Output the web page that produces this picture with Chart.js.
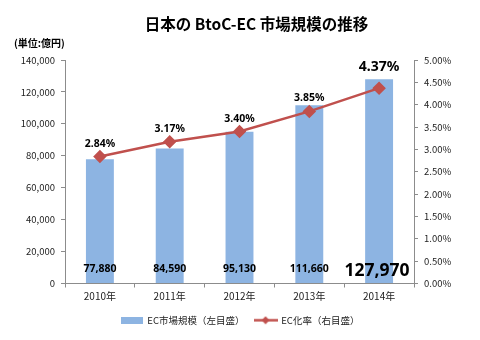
<!DOCTYPE html>
<html>
<head>
<meta charset="utf-8">
<script src="https://cdn.jsdelivr.net/npm/chart.js@4"></script>
<style>
  html, body { margin: 0; padding: 0; background: #fff; }
  #wrap { width: 480px; height: 340px; }
</style>
</head>
<body>
<div id="wrap"><canvas id="myChart" width="480" height="340"></canvas></div>
<script>
// data
var years = ['2010年', '2011年', '2012年', '2013年', '2014年'];
var ecSize = [77880, 84590, 95130, 111660, 127970];   // 億円
var ecRate = [2.84, 3.17, 3.40, 3.85, 4.37];          // %
var leftTicks = [0, 20000, 40000, 60000, 80000, 100000, 120000, 140000];
var rightTicks = [0, 0.5, 1, 1.5, 2, 2.5, 3, 3.5, 4, 4.5, 5];
var titleText = '日本の BtoC-EC 市場規模の推移';
var unitText = '(単位:億円)';

var jp = '"Noto Sans CJK JP", "Noto Sans", sans-serif';
var num = '"Noto Sans", "Liberation Sans", sans-serif';
var barColor = '#8DB4E2';
var lineColor = '#C0504D';
var axisColor = '#8c8c8c';

// legend swatches as small canvases
function swatchBar() {
    var c = document.createElement('canvas');
    c.width = 22; c.height = 7;
    var g = c.getContext('2d');
    g.fillStyle = barColor;
    g.fillRect(0, 0, 22, 7);
    return c;
}
function swatchLine() {
    var c = document.createElement('canvas');
    c.width = 24; c.height = 9;
    var g = c.getContext('2d');
    g.strokeStyle = lineColor;
    g.lineWidth = 2.5;
    g.beginPath(); g.moveTo(0, 4.5); g.lineTo(24, 4.5); g.stroke();
    g.fillStyle = lineColor;
    g.beginPath(); g.moveTo(12, 0.5); g.lineTo(16, 4.5); g.lineTo(12, 8.5); g.lineTo(8, 4.5); g.closePath(); g.fill();
    return c;
}

var labelPlugin = {
    id: 'labels',
    afterDatasetsDraw: function (chart) {
        var ctx = chart.ctx;
        ctx.save();
        ctx.textAlign = 'center';
        ctx.textBaseline = 'middle';
        ctx.fillStyle = '#000';
        var yb = chart.scales.y;
        var bars = chart.getDatasetMeta(0).data;
        bars.forEach(function (b, i) {
            var last = i === bars.length - 1;
            ctx.font = 'bold ' + (last ? 17.5 : 10.5) + 'px ' + num;
            ctx.fillText(ecSize[i].toLocaleString('en-US'), b.x - (last ? 2 : 0), yb.bottom - (last ? 12 : 14));
        });
        var pts = chart.getDatasetMeta(1).data;
        pts.forEach(function (p, i) {
            var last = i === pts.length - 1;
            ctx.font = 'bold ' + (last ? 14 : 10.5) + 'px ' + num;
            ctx.fillText(ecRate[i].toFixed(2) + '%', p.x, p.y - (last ? 21 : 13));
        });
        ctx.restore();
    },
    afterDraw: function (chart) {
        var ctx = chart.ctx;
        var area = chart.chartArea;
        ctx.save();
        ctx.fillStyle = '#000';
        ctx.textBaseline = 'middle';
        ctx.textAlign = 'center';
        ctx.font = 'bold 15.5px ' + jp;
        ctx.fillText(titleText, (area.left + area.right) / 2 + 17, area.top - 36);
        ctx.textAlign = 'left';
        ctx.font = 'bold 10px ' + jp;
        ctx.fillText(unitText, 14, area.top - 17);
        ctx.restore();
    }
};

var ctx = document.getElementById('myChart').getContext('2d');
var chart = new Chart(ctx, {
    type: 'bar',
    data: {
        labels: years,
        datasets: [{
            label: 'EC市場規模（左目盛）',
            data: ecSize,
            backgroundColor: barColor,
            yAxisID: 'y',
            categoryPercentage: 1,
            barPercentage: 0.4,
            order: 2
        }, {
            type: 'line',
            label: 'EC化率（右目盛）',
            data: ecRate,
            borderColor: lineColor,
            backgroundColor: lineColor,
            borderWidth: 2.5,
            pointStyle: 'rectRot',
            pointRadius: 5,
            pointBackgroundColor: lineColor,
            pointBorderColor: lineColor,
            yAxisID: 'y1',
            order: 1
        }]
    },
    options: {
        responsive: false,
        animation: false,
        layout: { padding: { left: 0, right: 0, top: 60, bottom: 5 } },
        plugins: {
            title: { display: false },
            legend: {
                position: 'bottom',
                labels: {
                    usePointStyle: true,
                    pointStyleWidth: 22,
                    color: '#222',
                    font: { family: jp, size: 9.5 },
                    padding: 10,
                    generateLabels: function (chart) {
                        var ds = chart.data.datasets;
                        return [
                            { text: ds[0].label, pointStyle: swatchBar(), fontColor: '#222', datasetIndex: 0, lineWidth: 0 },
                            { text: ds[1].label, pointStyle: swatchLine(), fontColor: '#222', datasetIndex: 1, lineWidth: 0 }
                        ];
                    }
                }
            },
            tooltip: { enabled: false }
        },
        scales: {
            x: {
                grid: { display: true, drawOnChartArea: false, color: axisColor, tickLength: 4 },
                border: { color: axisColor },
                ticks: { color: '#222', font: { family: jp, size: 10 }, padding: 3 },
                afterFit: function (s) { s.height = 22; }
            },
            y: {
                position: 'left',
                min: 0, max: 140000,
                afterBuildTicks: function (s) { s.ticks = leftTicks.map(function (v) { return { value: v }; }); },
                grid: { display: true, drawOnChartArea: false, color: axisColor, tickLength: 4 },
                border: { color: axisColor },
                ticks: {
                    color: '#222', font: { family: jp, size: 9.5 }, padding: 6,
                    callback: function (v) { return v.toLocaleString('en-US'); }
                },
                afterFit: function (s) { s.width = 65; }
            },
            y1: {
                position: 'right',
                min: 0, max: 5,
                afterBuildTicks: function (s) { s.ticks = rightTicks.map(function (v) { return { value: v }; }); },
                grid: { display: true, drawOnChartArea: false, color: axisColor, tickLength: 4 },
                border: { color: axisColor },
                ticks: {
                    color: '#222', font: { family: jp, size: 9.5 }, padding: 6,
                    callback: function (v) { return v.toFixed(2) + '%'; }
                },
                afterFit: function (s) { s.width = 66; }
            }
        }
    },
    plugins: [labelPlugin]
});
</script>
</body>
</html>
